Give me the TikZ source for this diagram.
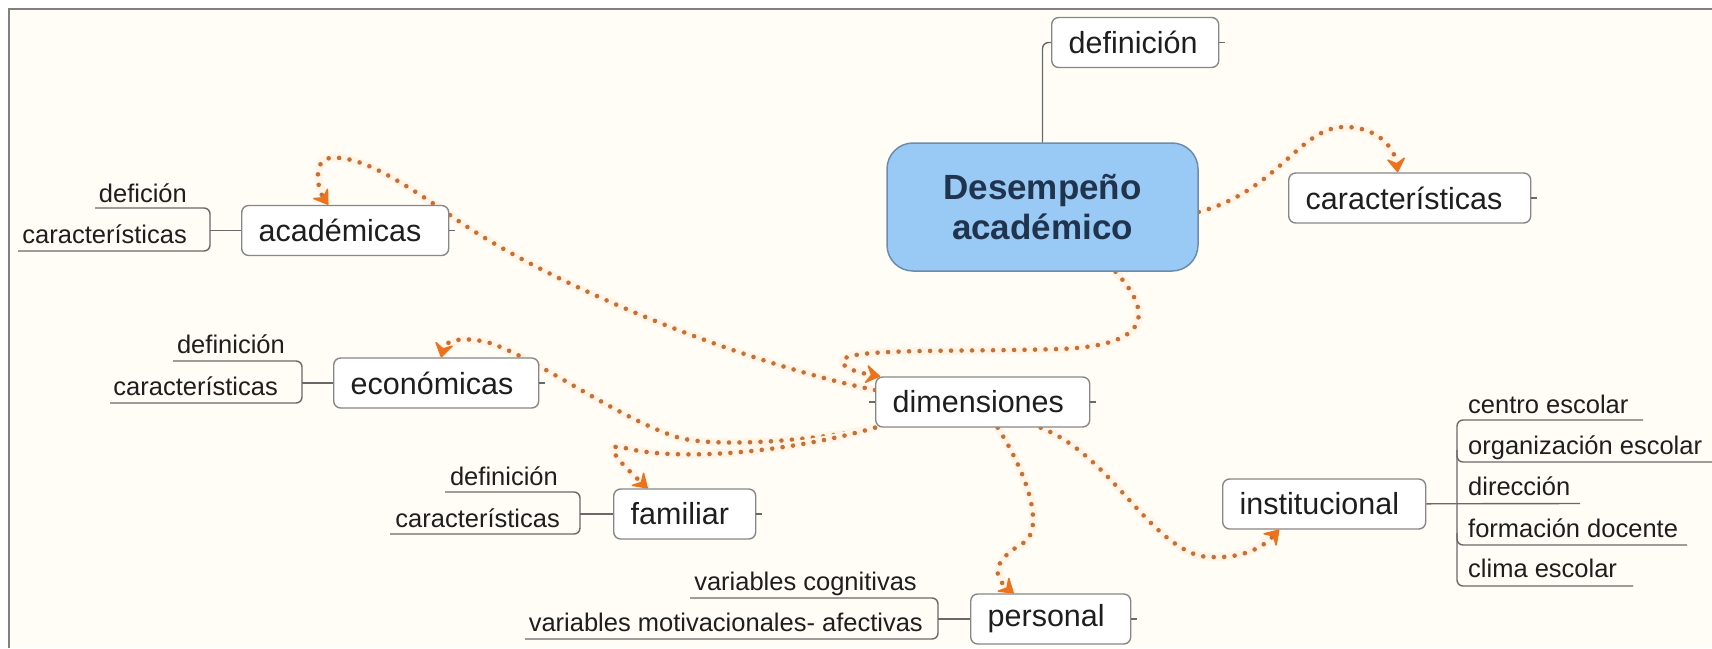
\documentclass[tikz,border=0pt]{standalone}
\usepackage{fontspec}
\setmainfont{Liberation Sans}
\usetikzlibrary{arrows.meta,backgrounds}

\definecolor{fondo}{RGB}{255,253,246}
\definecolor{marco}{RGB}{128,128,128}
\definecolor{borde}{RGB}{135,135,135}
\definecolor{lineagris}{RGB}{105,105,105}
\definecolor{texto}{RGB}{30,30,30}
\definecolor{azul}{RGB}{153,202,246}
\definecolor{azulborde}{RGB}{108,140,172}
\definecolor{azultexto}{RGB}{32,52,78}
\definecolor{punto}{RGB}{200,112,52}
\definecolor{naranja}{RGB}{236,114,28}
\definecolor{halo}{RGB}{254,244,232}

\begin{document}
\begin{tikzpicture}[x=1pt,y=-1pt,
  rama/.style={draw=borde,fill=white,line width=1.4pt,rounded corners=7pt,inner xsep=17pt,inner ysep=0pt,
    minimum height=50pt,text width=#1,align=left,text=texto,font=\fuenteram},
  hoja/.style={inner sep=0pt,text=texto,font=\fuentehoja},
  linea/.style={draw=lineagris,line width=1.4pt,rounded corners=6pt},
  rel/.style={draw=punto,line width=4.6pt,line cap=round,dash pattern=on 0pt off 10.5pt,
    -{Stealth[length=16pt,width=21pt,inset=6pt,line width=1.5pt,round,color=naranja,fill=naranja]},
    preaction={draw=halo,line width=8pt,solid,-}}]
\def\fuenteram{\fontsize{30.5pt}{36pt}\selectfont}
\def\fuentehoja{\fontsize{25.5pt}{30pt}\selectfont}
\def\fuentecentro{\fontsize{35pt}{40pt}\selectfont\bfseries}

\useasboundingbox (0,0) rectangle (1712,648);

% centro
\node[draw=azulborde,fill=azul,line width=1.5pt,rounded corners=26pt,minimum width=311pt,minimum height=128pt,
  align=center,text=azultexto,font=\fuentecentro] (desemp) at (1042.5,207) {Desempeño\\académico};

\node[rama=133pt,anchor=west] (def) at (1051,42.5) {definición};
\node[rama=208pt,anchor=west] (caract) at (1288,198) {características};
\node[rama=180pt,anchor=west] (dim) at (875,402) {dimensiones};
\node[rama=173pt,anchor=west] (acad) at (241,230.5) {académicas};
\node[rama=171pt,anchor=west] (econ) at (333,383) {económicas};
\node[rama=108pt,anchor=west] (fam) at (613,514) {familiar};
\node[rama=126pt,anchor=west] (pers) at (970,619) {personal};
\node[rama=169pt,anchor=west] (inst) at (1222,504) {institucional};

\draw[linea] (desemp.north) |- (def.west);

% hojas
\node[hoja,anchor=base east] (acaddef) at (187,202) {defición};
\node[hoja,anchor=base east] (acadcar) at (187,243) {características};
\node[hoja,anchor=base east] (econdef) at (285,353) {definición};
\node[hoja,anchor=base east] (econcar) at (278,395) {características};
\node[hoja,anchor=base east] (famdef) at (558,485) {definición};
\node[hoja,anchor=base east] (famcar) at (560,527) {características};
\node[hoja,anchor=base east] (perscog) at (917,590) {variables cognitivas};
\node[hoja,anchor=base east] (persmot) at (923,631) {variables motivacionales- afectivas};
\node[hoja,anchor=base west] (centro) at (1468,413) {centro escolar};
\node[hoja,anchor=base west] (organ) at (1468,454) {organización escolar};
\node[hoja,anchor=base west] (direc) at (1468,495) {dirección};
\node[hoja,anchor=base west] (forma) at (1468,537) {formación docente};
\node[hoja,anchor=base west] (clima) at (1468,577) {clima escolar};

\coordinate (acadb) at (210,230.5);
\coordinate (econb) at (302,383);
\coordinate (famb) at (580,514);
\coordinate (persb) at (938,619);
\coordinate (instb) at (1580,503.5);

\draw[linea] (95,208) -- (210,208) -- (210,251) -- (18,251);
\draw[linea] (acadb) -- (acad);
\draw[linea] (173,361) -- (302,361) -- (302,403) -- (110,403);
\draw[linea] (econb) -- (econ);
\draw[linea] (445,492) -- (580,492) -- (580,534) -- (390,534);
\draw[linea] (famb) -- (fam);
\draw[linea] (690,598) -- (938,598) -- (938,639) -- (525,639);
\draw[linea] (persb) -- (pers);
\draw[linea] (1643,420) -- (1457,420) -- (1457,586) -- (1633,586);
\draw[linea] (1457,450) |- (1714,462);
\draw[linea] (1457,533) |- (1687,545);
\draw[linea] (inst) -- (instb);

% marcas
\draw[linea] (def.east) -- ++(6,0);
\draw[linea] (caract.east) -- ++(6,0);
\draw[linea] (acad.east) -- ++(6,0);
\draw[linea] (econ.east) -- ++(6,0);
\draw[linea] (dim.west) -- ++(-6,0);
\draw[linea] (dim.east) -- ++(6,0);
\draw[linea] (fam.east) -- ++(6,0);
\draw[linea] (pers.east) -- ++(6,0);

\draw[marco,line width=2pt] (9,648) -- (9,9) -- (1712,9);

\begin{pgfonlayer}{background}
\fill[fondo] (9,9) rectangle (1712,648);
\draw[rel] ([xshift=73pt]desemp.south) .. controls (1160,320) and (1140,346) .. (1060,349)
  .. controls (960,352) and (850,348) .. (843,360) .. controls (840,368) and (860,373) .. ([xshift=5pt]dim.north west);
\draw[rel] ([yshift=-5pt]desemp.east) .. controls (1280,190) and (1300,125) .. (1347,127)
  .. controls (1380,128) and (1395,150) .. ([xshift=-12pt]caract.north);
\draw[rel] ([yshift=12pt]dim.west) .. controls (750,365) and (560,290) .. (460,222)
  .. controls (400,180) and (360,155) .. (330,158) .. controls (312,160) and (318,190) .. ([xshift=-17pt]acad.north);
\draw[rel] (dim.south west) .. controls (820,440) and (720,448) .. (680,438)
  .. controls (620,420) and (540,360) .. (490,343) .. controls (465,336) and (445,340) .. ([xshift=5pt]econ.north);
\draw[rel] (dim.south west) .. controls (790,452) and (680,462) .. (625,448)
  .. controls (596,440) and (628,470) .. ([xshift=-37pt]fam.north);
\draw[rel] ([xshift=15pt]dim.south) .. controls (1025,470) and (1045,525) .. (1025,542)
  .. controls (1000,556) and (988,572) .. ([xshift=-37pt]pers.north);
\draw[rel] ([xshift=58pt]dim.south) .. controls (1110,455) and (1145,540) .. (1200,556)
  .. controls (1240,561) and (1262,548) .. ([xshift=-45pt]inst.south);
\end{pgfonlayer}
\end{tikzpicture}
\end{document}
